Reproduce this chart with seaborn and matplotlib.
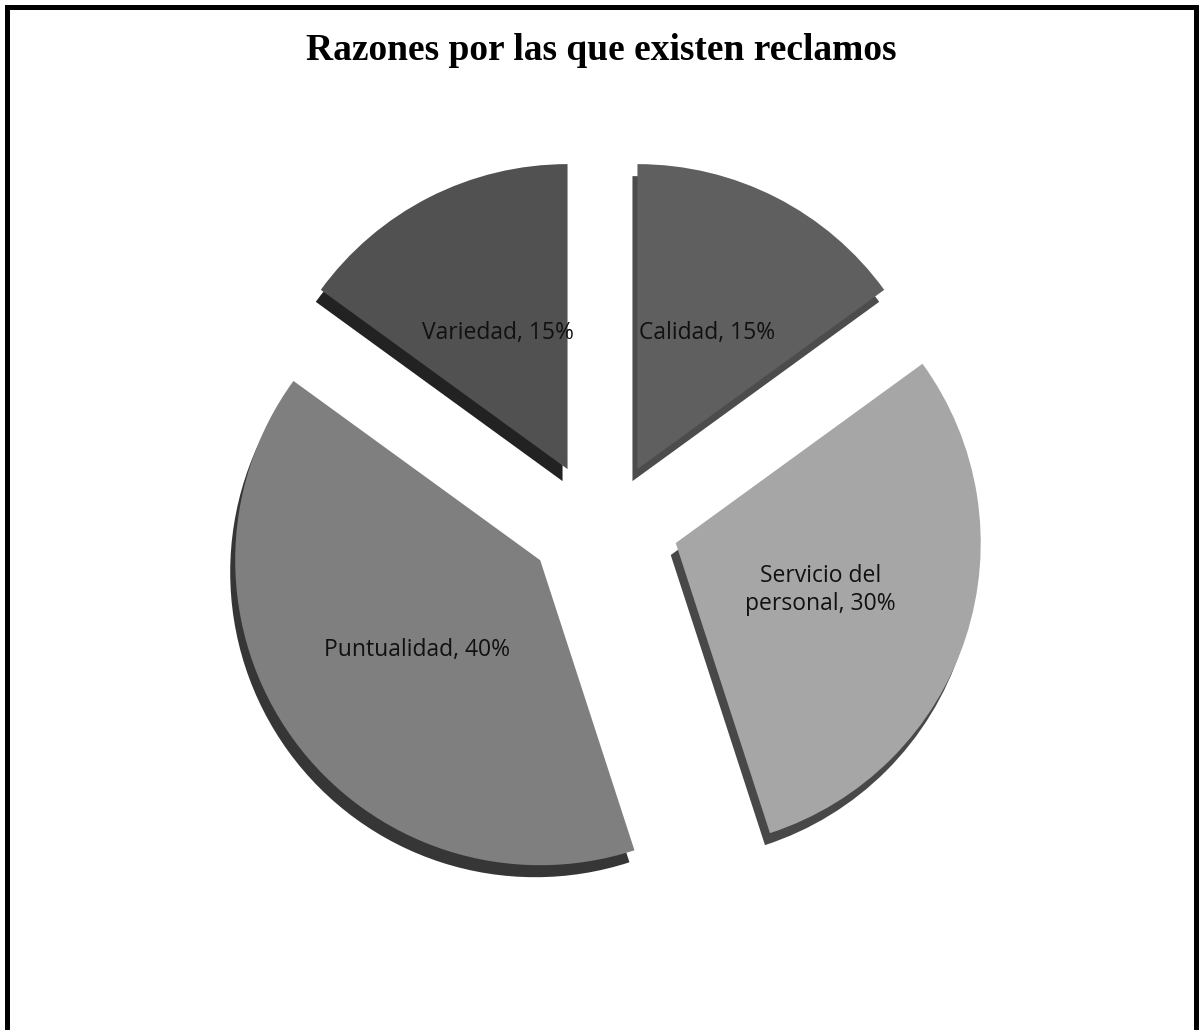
import matplotlib
matplotlib.use("Agg")
import matplotlib.pyplot as plt
from matplotlib.patches import Rectangle
import numpy as np
import seaborn as sns

# Datos del gráfico
categorias = ["Calidad", "Servicio del\npersonal", "Puntualidad", "Variedad"]
porcentajes = [15, 30, 40, 15]
titulo = "Razones por las que existen reclamos"

# Colores (caras y lados del efecto 3D)
colores = ["#5f5f5f", "#a6a6a6", "#7f7f7f", "#515151"]
colores_lado = ["#4c4c4c", "#484848", "#363636", "#222222"]

sns.set_theme(style="white")
plt.rcParams["font.family"] = ["Open Sans", "DejaVu Sans"]

W, H = 1202, 1030
fig = plt.figure(figsize=(W / 100, H / 100), dpi=100)
ax = fig.add_axes([0, 0, 1, 1])

centro = (602.5, 506)
radio = 305
dist = 77        # separación de las porciones
achatado = 0.8   # la separación vertical se ve más corta (perspectiva)
grosor = (-5, -12)
etiquetas = [f"{c}, {p}%" for c, p in zip(categorias, porcentajes)]


def separar(wedges, textos=None, extra=(0, 0)):
    # mueve cada porción hacia afuera según su ángulo medio
    for i, w in enumerate(wedges):
        th = np.deg2rad((w.theta1 + w.theta2) / 2)
        ox = dist * np.cos(th) + extra[0]
        oy = achatado * dist * np.sin(th) + extra[1]
        cx, cy = w.center
        w.set_center((cx + ox, cy + oy))
        if textos is not None:
            x, y = textos[i].get_position()
            textos[i].set_position((x + ox, y + oy))


# Lado (grosor) del pastel: copia desplazada y más oscura
lados, _ = ax.pie(porcentajes, colors=colores_lado, startangle=90,
                  counterclock=False, radius=radio, center=centro,
                  wedgeprops=dict(linewidth=0))
separar(lados, extra=grosor)

# Cara superior
caras, textos = ax.pie(porcentajes, colors=colores, startangle=90,
                       counterclock=False, radius=radio, center=centro,
                       labels=etiquetas, labeldistance=0.5,
                       wedgeprops=dict(linewidth=0),
                       textprops=dict(fontsize=16.5, color="#111111"))
for t in textos:
    t.set_ha("center")
    t.set_va("center")
    t.set_multialignment("center")
separar(caras, textos)

ax.set_xlim(0, W)
ax.set_ylim(0, H)
ax.set_aspect("equal")
ax.axis("off")

fig.text(0.5, 1 - 50 / H, titulo, ha="center", va="center", fontsize=27,
         fontweight="bold", color="black", family=["Liberation Serif", "DejaVu Serif"])

# Marco negro
fig.patches.append(Rectangle((6.5 / W, -0.05), (W - 13) / W, 1.05 - 6.5 / H,
                             transform=fig.transFigure, fill=False,
                             edgecolor="black", linewidth=3.6))

fig.savefig("out.png", dpi=100)
